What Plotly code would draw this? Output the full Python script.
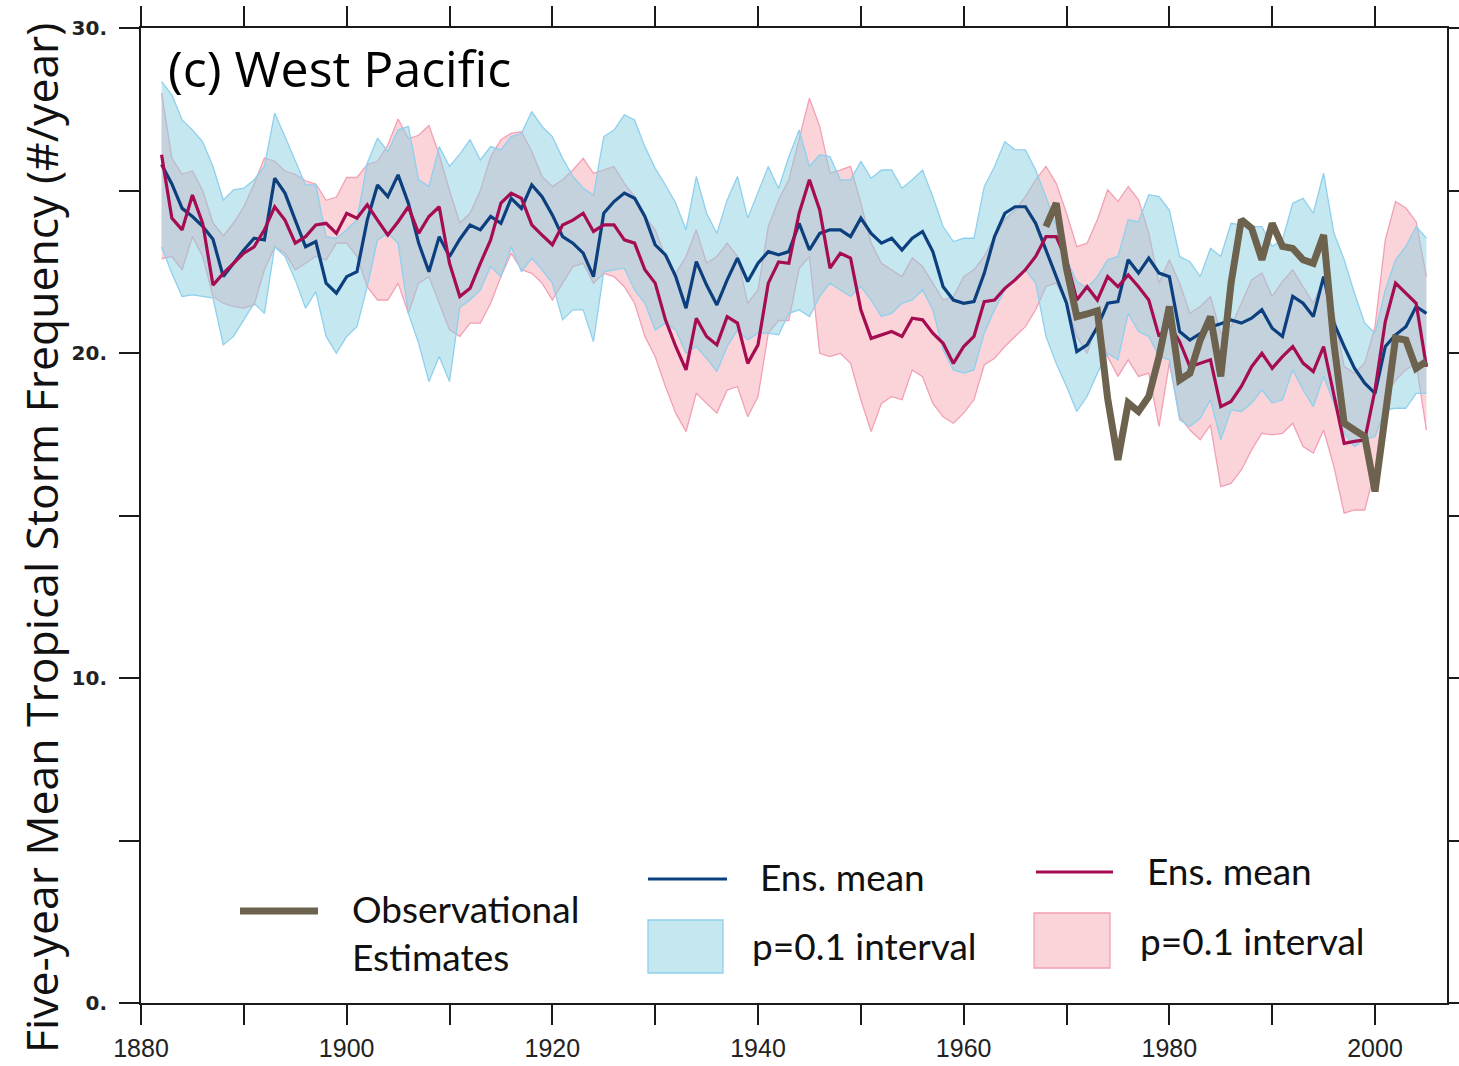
import plotly.graph_objects as go

# ---------------------------------------------------------------
# Five-year mean tropical storm frequency, West Pacific
# ---------------------------------------------------------------
years = list(range(1882, 2006))

# ensemble (blue) : mean and p=0.1 interval
blue_mean = [
    25.8, 25.2, 24.45, 24.2, 23.9, 23.5, 22.35, 22.76, 23.17, 23.53,
    23.48, 25.38, 24.92, 24.09, 23.27, 23.43, 22.15, 21.84, 22.35, 22.5,
    24.09, 25.17, 24.81, 25.48, 24.61, 23.38, 22.5, 23.58, 22.97, 23.5,
    23.94, 23.79, 24.2, 23.99, 24.76, 24.45, 25.17, 24.81, 24.25, 23.58,
    23.38, 23.07, 22.35, 24.3, 24.66, 24.92, 24.76, 24.2, 23.33, 23.02,
    22.35, 21.38, 22.81, 22.09, 21.48, 22.25, 22.92, 22.2, 22.76, 23.12,
    23.02, 23.12, 23.99, 23.17, 23.68, 23.79, 23.79, 23.58, 24.15, 23.68,
    23.38, 23.53, 23.17, 23.53, 23.74, 23.12, 22.04, 21.63, 21.53, 21.58,
    22.45, 23.58, 24.3, 24.5, 24.5, 23.99, 23.17, 22.35, 21.53, 20.04,
    20.25, 20.8, 21.53, 21.58, 22.87, 22.46, 22.92, 22.46, 22.35, 20.66,
    20.4, 20.6, 20.8, 20.9, 21.02, 20.92, 21.07, 21.33, 20.76, 20.51,
    21.74, 21.53, 21.12, 22.35, 20.92, 20.2, 19.53, 19.07, 18.76, 20.2,
    20.56, 20.81, 21.43, 21.22,
]
blue_upper = [
    28.35, 27.94, 27.17, 26.86, 26.5, 25.74, 24.71, 25.02, 25.07, 25.33,
    25.74, 27.38, 26.66, 25.94, 25.17, 25.17, 23.58, 23.53, 23.79, 24.1,
    25.84, 26.61, 26.2, 26.86, 26.97, 25.33, 25.12, 26.35, 25.74, 26.12,
    26.56, 25.94, 26.35, 26.25, 26.66, 26.76, 27.43, 26.97, 26.66, 25.99,
    25.43, 25.07, 24.86, 26.66, 26.86, 27.33, 27.17, 26.35, 25.68, 25.17,
    24.61, 23.79, 25.43, 24.3, 23.68, 24.71, 25.43, 24.15, 24.92, 25.74,
    25.06, 26.04, 26.86, 25.74, 26.1, 26.04, 25.33, 25.33, 25.89, 25.38,
    25.63, 25.63, 25.07, 25.33, 25.63, 24.81, 23.89, 23.43, 23.53, 23.53,
    25.12, 25.74, 26.5, 26.25, 26.25, 25.63, 24.81, 23.9, 22.9, 22.2,
    22.0, 22.35, 22.87, 22.97, 24.1, 24.04, 24.87, 24.81, 24.4, 22.97,
    22.81, 22.35, 23.22, 22.97, 23.99, 23.94, 23.89, 23.89, 23.28, 23.48,
    24.61, 24.76, 24.3, 25.53, 23.69, 22.87, 21.84, 20.92, 20.61, 21.94,
    22.87, 23.28, 23.89, 23.53,
]
blue_lower = [
    23.27, 22.45, 21.74, 21.79, 21.74, 21.69, 20.25, 20.51, 21.02, 21.53,
    21.22, 23.27, 22.97, 22.25, 21.38, 21.89, 20.51, 19.99, 20.51, 20.81,
    22.04, 23.48, 23.68, 23.38, 21.22, 20.3, 19.12, 19.89, 19.12, 21.4,
    21.63, 21.94, 22.66, 22.35, 23.27, 22.5, 22.92, 22.56, 22.15, 21.02,
    21.33, 21.33, 20.35, 22.5, 22.56, 22.61, 21.94, 21.53, 20.71, 20.92,
    20.71, 19.99, 20.2, 19.84, 19.43, 20.2, 20.71, 20.4, 20.61, 20.61,
    20.56, 21.22, 21.33, 21.12, 21.74, 22.15, 21.94, 21.74, 22.04, 21.63,
    21.12, 21.22, 21.53, 21.63, 21.94, 21.33, 20.1, 19.48, 19.38, 19.48,
    20.61, 21.33, 21.94, 22.25, 22.56, 22.15, 20.51, 19.68, 18.97, 18.2,
    18.66, 19.38, 19.99, 19.79, 21.22, 20.66, 20.51, 19.89, 19.79, 17.94,
    17.74, 17.99, 18.56, 17.33, 18.25, 18.2, 18.46, 18.87, 18.46, 18.56,
    19.48, 18.87, 18.35, 19.28, 18.46, 17.53, 17.12, 17.33, 17.43, 18.25,
    18.3, 18.3, 18.76, 18.76,
]

# ensemble (red) : mean and p=0.1 interval
red_mean = [
    26.1, 24.15, 23.79, 24.86, 23.99, 22.09, 22.45, 22.76, 23.07, 23.27,
    23.79, 24.5, 24.09, 23.38, 23.58, 23.94, 23.99, 23.68, 24.3, 24.15,
    24.56, 24.09, 23.63, 24.04, 24.5, 23.68, 24.2, 24.5, 22.76, 21.74,
    21.99, 22.76, 23.48, 24.61, 24.92, 24.76, 23.94, 23.63, 23.33, 23.94,
    24.09, 24.3, 23.74, 23.94, 23.94, 23.48, 23.38, 22.56, 22.15, 21.02,
    20.2, 19.48, 21.07, 20.51, 20.25, 21.12, 20.92, 19.68, 20.25, 22.15,
    22.8, 22.76, 24.3, 25.33, 24.4, 22.61, 23.07, 22.92, 21.33, 20.45,
    20.56, 20.66, 20.51, 21.07, 21.02, 20.61, 20.3, 19.68, 20.2, 20.51,
    21.58, 21.63, 21.99, 22.25, 22.56, 22.97, 23.58, 23.58, 22.86, 21.63,
    22.04, 21.63, 22.35, 22.04, 22.4, 22.04, 21.63, 20.51, 20.87, 20.35,
    19.58, 19.69, 19.79, 18.35, 18.51, 18.97, 19.58, 19.99, 19.53, 19.89,
    20.2, 19.69, 19.43, 20.2, 18.66, 17.22, 17.28, 17.33, 18.86, 20.97,
    22.15, 21.84, 21.53, 19.58,
]
red_upper = [
    28.0, 26.0, 25.5, 25.6, 25.0, 24.0, 23.6, 24.0, 24.5, 25.2,
    26.0, 25.9, 25.6, 25.5, 25.3, 25.2, 24.7, 24.8, 25.4, 25.4,
    25.8, 25.9, 26.4, 27.2, 26.6, 26.7, 27.0, 26.1, 25.0, 24.0,
    24.3, 25.0, 26.04, 26.56, 26.76, 26.81, 26.2, 25.43, 25.12, 25.33,
    25.63, 25.99, 25.53, 25.63, 25.74, 25.22, 24.81, 24.2, 23.79, 22.97,
    22.45, 22.97, 23.79, 22.76, 22.97, 23.38, 22.97, 21.53, 21.94, 23.89,
    24.71, 25.33, 26.56, 27.84, 26.97, 25.53, 25.63, 25.74, 24.61, 23.38,
    22.76, 22.56, 22.35, 22.92, 22.66, 22.15, 21.63, 21.74, 22.35, 22.56,
    22.97, 23.58, 24.1, 24.4, 24.81, 25.33, 25.74, 25.22, 24.3, 23.27,
    23.38, 24.1, 25.02, 24.66, 25.12, 24.71, 23.69, 22.15, 22.87, 22.15,
    21.22, 21.43, 21.74, 20.61, 20.81, 21.53, 22.25, 22.46, 21.74, 22.2,
    22.56, 22.04, 21.53, 22.25, 21.22, 19.58, 19.38, 19.69, 20.81, 23.48,
    24.66, 24.46, 24.04, 22.35,
]
red_lower = [
    22.9, 22.97, 22.56, 23.58, 22.97, 21.74, 21.53, 21.43, 21.38, 21.48,
    22.56, 23.27, 23.07, 22.56, 22.76, 22.97, 22.86, 23.38, 23.38, 22.97,
    22.04, 21.63, 21.63, 22.15, 21.22, 22.15, 22.35, 21.53, 20.71, 20.51,
    20.92, 20.92, 21.53, 22.35, 23.07, 22.56, 22.45, 22.15, 21.63, 22.15,
    22.66, 22.76, 22.15, 22.45, 22.35, 22.04, 21.53, 20.51, 19.89, 18.97,
    18.15, 17.58, 18.76, 18.45, 18.15, 18.86, 18.97, 18.04, 18.66, 20.61,
    21.0, 21.0, 22.6, 22.97, 19.99, 19.89, 19.99, 19.68, 18.56, 17.58,
    18.45, 18.66, 18.56, 19.48, 19.27, 18.45, 18.04, 17.84, 18.15, 18.56,
    19.63, 19.84, 20.2, 20.51, 20.81, 21.33, 22.04, 22.15, 21.53, 20.51,
    19.99, 20.92, 19.89, 19.28, 19.79, 19.28, 19.38, 17.74, 19.69, 18.04,
    17.63, 17.33, 17.79, 15.89, 15.99, 16.4, 17.02, 17.53, 17.48, 17.53,
    17.84, 17.12, 16.92, 17.63, 16.51, 15.07, 15.17, 15.17, 16.4, 18.66,
    19.17, 19.48, 19.69, 17.63,
]

# observational estimates
obs_years = list(range(1968, 2006))
obs_values = [
    23.89, 24.61, 22.6, 21.12, 21.2, 21.3, 18.6, 16.71, 18.46, 18.2,
    18.66, 19.89, 21.43, 19.17, 19.38, 20.4, 21.12, 19.28, 22.15, 24.1,
    23.84, 22.87, 23.99, 23.28, 23.22, 22.87, 22.76, 23.63, 20.3, 17.84,
    17.63, 17.43, 15.74, 18.04, 20.46, 20.4, 19.53, 19.74,
]

x_ticks = list(range(1880, 2010, 10))
x_ticktext = [str(y) if (y - 1880) % 20 == 0 else "" for y in x_ticks]
y_ticks = [0, 5, 10, 15, 20, 25, 30]
y_ticktext = ["0.", "", "10.", "", "20.", "", "30."]

# colours
BLUE_LINE = "#0c3f7e"
RED_LINE = "#a60c52"
OBS_LINE = "#6d624d"
BLUE_FILL = "rgba(140,207,223,0.5)"
BLUE_EDGE = "#8fd0ee"
RED_FILL = "rgba(243,160,170,0.45)"
RED_EDGE = "#f2a0b6"

W, H = 1459, 1066
ML, MR, MT, MB = 141, 12, 28, 63
PW, PH = W - ML - MR, H - MT - MB


def px(x):
    return (x - ML) / PW


def py(y):
    return (H - MB - y) / PH


fig = go.Figure()

# p=0.1 interval bands
for lower, upper, fill, edge in [
    (red_lower, red_upper, RED_FILL, RED_EDGE),
    (blue_lower, blue_upper, BLUE_FILL, BLUE_EDGE),
]:
    fig.add_trace(go.Scatter(x=years, y=lower, mode="lines",
                             line=dict(color=edge, width=1.3),
                             showlegend=False, hoverinfo="skip"))
    fig.add_trace(go.Scatter(x=years, y=upper, mode="lines", fill="tonexty",
                             fillcolor=fill,
                             line=dict(color=edge, width=1.3),
                             showlegend=False, hoverinfo="skip"))

# ensemble means
fig.add_trace(go.Scatter(x=years, y=blue_mean, mode="lines",
                         line=dict(color=BLUE_LINE, width=3.2),
                         showlegend=False))
fig.add_trace(go.Scatter(x=years, y=red_mean, mode="lines",
                         line=dict(color=RED_LINE, width=3.2),
                         showlegend=False))
# observations
fig.add_trace(go.Scatter(x=obs_years, y=obs_values, mode="lines",
                         line=dict(color=OBS_LINE, width=7),
                         showlegend=False))

TITLE_FONT = "'Open Sans', sans-serif"
LEGEND_FONT = "Lato, 'Open Sans', sans-serif"

axis_common = dict(
    showline=True, linecolor="#1a1a1a", linewidth=2, mirror="ticks",
    ticks="outside", ticklen=20, tickwidth=2, tickcolor="#1a1a1a",
    showgrid=False, zeroline=False, automargin=False,
)

fig.update_layout(
    width=W, height=H,
    margin=dict(l=ML, r=MR, t=MT, b=MB),
    paper_bgcolor="white", plot_bgcolor="white",
    showlegend=False,
    xaxis=dict(range=[1880, 2007], tickvals=x_ticks, ticktext=x_ticktext,
               tickfont=dict(family="'Liberation Sans', Arial, sans-serif",
                             size=25, color="#222"),
               ticklabelstandoff=2,
               **axis_common),
    yaxis=dict(range=[0, 30], tickvals=y_ticks, ticktext=y_ticktext,
               tickfont=dict(family="'DejaVu Sans', sans-serif",
                             size=20, color="#222", weight="bold"),
               ticklabelstandoff=8,
               **axis_common),
)

annotations = [
    dict(text="(c) West Pacific", x=px(166), y=py(68), xanchor="left",
         yanchor="middle", font=dict(family=TITLE_FONT, size=50, color="black")),
    dict(text="Five-year Mean Tropical Storm Frequency (#/year)",
         x=px(40), y=py(538), textangle=-90, xanchor="center",
         yanchor="middle", font=dict(family=TITLE_FONT, size=44.5, color="#111")),
    dict(text="Observational", x=px(350), y=py(908), xanchor="left",
         yanchor="middle", font=dict(family=LEGEND_FONT, size=37, color="#111")),
    dict(text="Estimates", x=px(350), y=py(956), xanchor="left",
         yanchor="middle", font=dict(family=LEGEND_FONT, size=37, color="#111")),
    dict(text="Ens. mean", x=px(758), y=py(876), xanchor="left",
         yanchor="middle", font=dict(family=LEGEND_FONT, size=37, color="#111")),
    dict(text="p=0.1 interval", x=px(750), y=py(945), xanchor="left",
         yanchor="middle", font=dict(family=LEGEND_FONT, size=37, color="#111")),
    dict(text="Ens. mean", x=px(1145), y=py(870), xanchor="left",
         yanchor="middle", font=dict(family=LEGEND_FONT, size=37, color="#111")),
    dict(text="p=0.1 interval", x=px(1138), y=py(940), xanchor="left",
         yanchor="middle", font=dict(family=LEGEND_FONT, size=37, color="#111")),
]
for a in annotations:
    a.update(xref="paper", yref="paper", showarrow=False)
fig.update_layout(annotations=annotations)

# legend keys
shapes = [
    dict(type="line", x0=px(240), x1=px(318), y0=py(911), y1=py(911),
         line=dict(color=OBS_LINE, width=7)),
    dict(type="line", x0=px(648), x1=px(727), y0=py(879), y1=py(879),
         line=dict(color=BLUE_LINE, width=3)),
    dict(type="rect", x0=px(648), x1=px(723), y0=py(973), y1=py(920),
         fillcolor=BLUE_FILL, line=dict(color=BLUE_EDGE, width=1.3)),
    dict(type="line", x0=px(1036), x1=px(1113), y0=py(872), y1=py(872),
         line=dict(color=RED_LINE, width=3)),
    dict(type="rect", x0=px(1034), x1=px(1110), y0=py(968), y1=py(913),
         fillcolor=RED_FILL, line=dict(color=RED_EDGE, width=1.3)),
]
for s in shapes:
    s.update(xref="paper", yref="paper")
fig.update_layout(shapes=shapes)

fig.write_html("out.html")
